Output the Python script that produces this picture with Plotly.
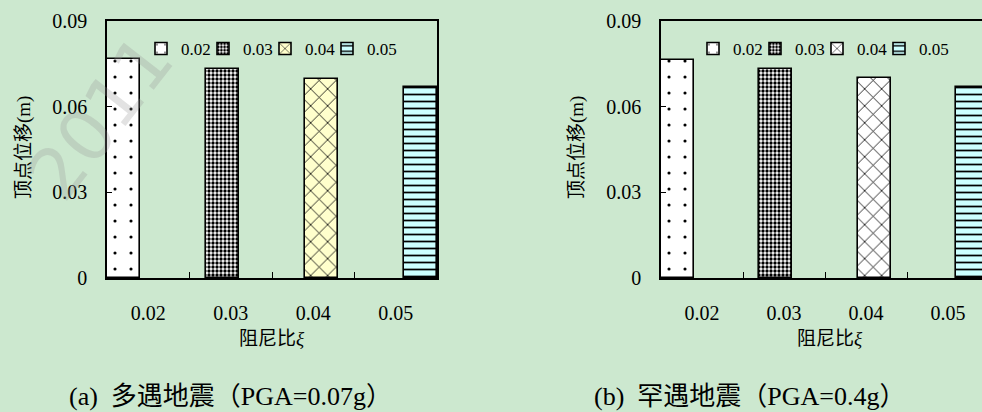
import plotly.graph_objects as go

# ---------------- data ----------------
categories = ["0.02", "0.03", "0.04", "0.05"]
series_names = ["0.02", "0.03", "0.04", "0.05"]
disp_frequent = [0.0767, 0.0732, 0.0696, 0.0670]   # (a) PGA=0.07g
disp_rare = [0.0762, 0.0733, 0.0699, 0.0670]       # (b) PGA=0.4g
y_tick_vals = [0, 0.03, 0.06, 0.09]
y_tick_text = ["0", "0.03", "0.06", "0.09"]
x_title = "阻尼比<i>ξ</i>"
y_title = "顶点位移(m)"
captions = ["(a)  多遇地震（PGA=0.07g）", "(b)  罕遇地震（PGA=0.4g）"]
watermark = "2011"

# ---------------- style ----------------
W, H = 982, 412
BG = "#cce8cf"
FONT = "Liberation Serif, Noto Sans CJK SC, serif"
patterns = [
    dict(shape=".", size=16, solidity=0.03),
    dict(shape=".", size=4, solidity=0.55),
    dict(shape="x", size=12, solidity=0.13),
    dict(shape="-", size=7, solidity=0.25),
]
fill_left = ["#ffffff", "#ffffff", "#ffffcc", "#ccffff"]
fill_right = ["#ffffff", "#ffffff", "#ffffff", "#ccffff"]
BAR_W = 0.4
BAR_STEP = 0.2
LEGEND_STEP_PX = 62

def px_x(p):
    return p / W

def px_y(p):
    return 1 - p / H

fig = go.Figure()
legend_layout = {}

legend_common = dict(
    orientation="h", xanchor="left", yanchor="top",
    bgcolor="rgba(0,0,0,0)", borderwidth=0,
    font=dict(family=FONT, size=17, color="black"),
    itemwidth=30,
)

def add_panel(values, fills, xa, ya, legend_start_idx, legend_x0_px):
    for i, name in enumerate(series_names):
        yv = [values[j] if j == i else None for j in range(len(categories))]
        k = legend_start_idx + i
        lname = "legend" if k == 1 else f"legend{k}"
        legend_layout[lname] = dict(x=px_x(legend_x0_px + LEGEND_STEP_PX * i),
                                    y=px_y(31), **legend_common)
        fig.add_trace(go.Bar(
            x=categories, y=yv, name=name,
            xaxis=xa, yaxis=ya, legend=lname,
            width=BAR_W, offset=-0.5 + BAR_STEP * i,
            marker=dict(
                color=fills[i],
                line=dict(color="black", width=1.6),
                pattern=dict(fgcolor="black", bgcolor=fills[i],
                             fillmode="replace", **patterns[i]),
            ),
            hoverinfo="skip",
        ))

add_panel(disp_frequent, fill_left, "x", "y", 1, 141)
add_panel(disp_rare, fill_right, "x2", "y2", 5, 693)

ydom = [px_y(278), px_y(21)]
axis_common = dict(
    showgrid=False, zeroline=False, showline=True, linecolor="black",
    linewidth=1.5, ticks="inside", tickcolor="black",
    tickfont=dict(family=FONT, size=20, color="black"),
)

fig.update_layout(
    width=W, height=H, margin=dict(l=0, r=0, t=0, b=0, autoexpand=False),
    paper_bgcolor=BG, plot_bgcolor=BG,
    barmode="overlay", bargap=0,
    xaxis=dict(domain=[px_x(107), px_x(437)], anchor="y", type="category",
               categoryorder="array", categoryarray=categories,
               range=[-0.5, 3.5], tickson="boundaries", ticklen=6,
               mirror=True, ticklabelstandoff=16, **axis_common),
    yaxis=dict(domain=ydom, anchor="x", range=[0, 0.09],
               tickvals=y_tick_vals, ticktext=y_tick_text, ticklen=5,
               mirror=True, ticklabelstandoff=14, **axis_common),
    xaxis2=dict(domain=[px_x(661), 1.0], anchor="y2", type="category",
                categoryorder="array", categoryarray=categories,
                range=[-0.5, -0.5 + 321 / 82.0], tickson="boundaries",
                ticklen=6, mirror=True, ticklabelstandoff=16, **axis_common),
    yaxis2=dict(domain=ydom, anchor="x2", range=[0, 0.09],
                tickvals=y_tick_vals, ticktext=y_tick_text, ticklen=5,
                mirror=False, ticklabelstandoff=14, **axis_common),
    showlegend=True,
    **legend_layout,
)

annotations = [
    # axis titles
    dict(text=y_title, x=px_x(24), y=px_y(148), textangle=-90),
    dict(text=y_title, x=px_x(577), y=px_y(148), textangle=-90),
    dict(text=x_title, x=px_x(272), y=px_y(338)),
    dict(text=x_title, x=px_x(830), y=px_y(338)),
    # captions
    dict(text=captions[0], x=px_x(230), y=px_y(396), font=dict(family=FONT, size=26, color="black")),
    dict(text=captions[1], x=px_x(750), y=px_y(396), font=dict(family=FONT, size=26, color="black")),
]
for a in annotations:
    a.setdefault("font", dict(family=FONT, size=19, color="black"))
    fig.add_annotation(xref="paper", yref="paper", showarrow=False,
                       xanchor="center", yanchor="middle", **a)

# faint watermark (kept fully inside the page)
fig.add_annotation(text=watermark, xref="paper", yref="paper", x=px_x(100), y=px_y(118),
                   xanchor="center", yanchor="middle",
                   showarrow=False, textangle=-52,
                   font=dict(family="DejaVu Sans", size=72, color="rgba(150,150,150,0.28)"))

fig.write_html("out.html")
